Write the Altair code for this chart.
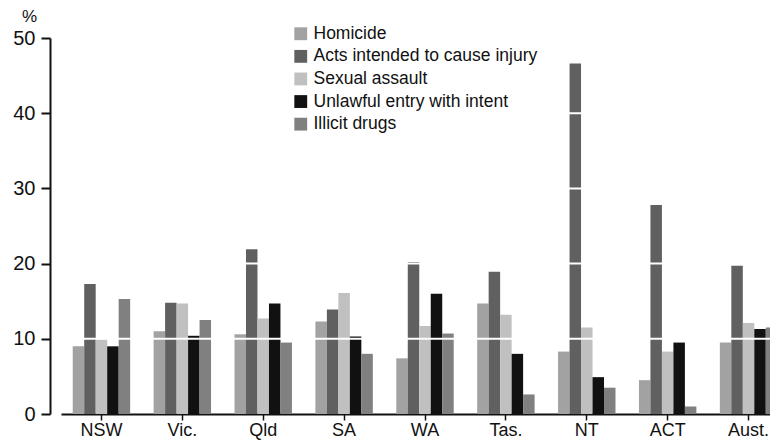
import altair as alt
import pandas as pd

states = ["NSW", "Vic.", "Qld", "SA", "WA", "Tas.", "NT", "ACT", "Aust."]
series = ["Homicide", "Acts intended to cause injury", "Sexual assault",
          "Unlawful entry with intent", "Illicit drugs"]
homicide = [9.0, 11.0, 10.6, 12.3, 7.4, 14.7, 8.3, 4.5, 9.5]
acts_injury = [17.3, 14.8, 21.9, 13.9, 20.2, 18.9, 46.6, 27.8, 19.7]
sexual_assault = [9.9, 14.7, 12.7, 16.1, 11.7, 13.2, 11.5, 8.3, 12.1]
unlawful_entry = [9.0, 10.4, 14.7, 10.3, 16.0, 8.0, 4.9, 9.5, 11.3]
illicit_drugs = [15.3, 12.5, 9.5, 8.0, 10.7, 2.6, 3.5, 1.0, 11.5]
colors = ["#a2a2a2", "#606060", "#c0c0c0", "#111111", "#808080"]
y_ticks = [0, 10, 20, 30, 40, 50]
grid_values = [10, 20, 30, 40]

rows = []
for name, vals in zip(series, [homicide, acts_injury, sexual_assault,
                               unlawful_entry, illicit_drugs]):
    for s, v in zip(states, vals):
        rows.append({"state": s, "series": name, "value": v})
df = pd.DataFrame(rows)
grid_df = pd.DataFrame({"g": grid_values})

FONT = "Liberation Sans"

x_enc = alt.X("state:N", sort=states,
              scale=alt.Scale(paddingInner=0.29, paddingOuter=0.145,
                              range=[0, 728]),
              axis=alt.Axis(title=None, labelAngle=0, labelFontSize=18,
                            labelFont=FONT, labelColor="#111", labelPadding=1,
                            tickSize=6, tickWidth=1.5, tickColor="#111",
                            domainColor="#111", domainWidth=2))

bars = alt.Chart(df).mark_bar().encode(
    x=x_enc,
    xOffset=alt.XOffset("series:N", sort=series,
                        scale=alt.Scale(paddingInner=0, paddingOuter=0)),
    y=alt.Y("value:Q", scale=alt.Scale(domain=[0, 50], nice=False),
            axis=alt.Axis(values=y_ticks, title="%", titleAngle=0,
                          titleFontSize=17, titleFont=FONT,
                          titleFontWeight="normal", titleColor="#111",
                          titleX=-21, titleY=-22, titleAlign="center",
                          titleBaseline="middle",
                          labelFontSize=20, labelFont=FONT, labelColor="#111",
                          labelPadding=6, tickSize=9, tickWidth=2,
                          tickColor="#111", domainColor="#111",
                          domainWidth=2, offset=11, grid=False)),
    color=alt.Color("series:N", sort=series,
                    scale=alt.Scale(domain=series, range=colors),
                    legend=alt.Legend(title=None, orient="none",
                                      legendX=231, legendY=-13,
                                      symbolType="square", symbolSize=165,
                                      symbolStrokeWidth=0,
                                      labelFontSize=17.5, labelFont=FONT,
                                      labelColor="#111", rowPadding=3.6,
                                      labelOffset=4, labelLimit=400)),
)

grid = alt.Chart(grid_df).mark_rule(color="white", strokeWidth=2).encode(
    y=alt.Y("g:Q")
)

chart = alt.layer(bars, grid).properties(
    width=709, height=376,
    autosize=alt.AutoSizeParams(type="none"),
    padding={"left": 53, "top": 30, "right": 0, "bottom": 26},
).configure_view(stroke=None).configure_axis(grid=False)

chart.save("out.html", embed_options={"renderer": "svg", "actions": False})
